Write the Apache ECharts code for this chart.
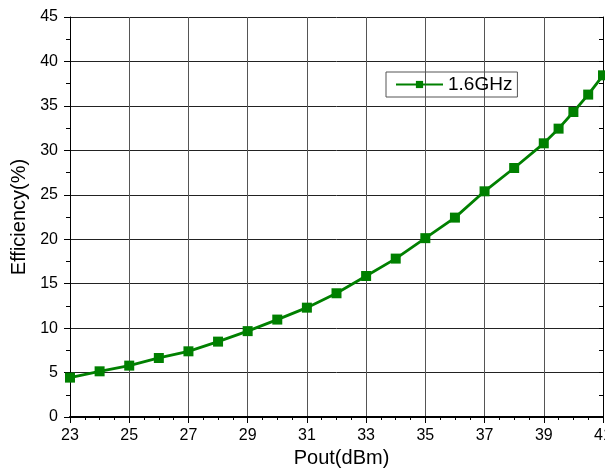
<!DOCTYPE html>
<html>
<head>
<meta charset="utf-8">
<script src="https://cdn.jsdelivr.net/npm/echarts@6/dist/echarts.min.js"></script>
<style>html,body{margin:0;padding:0;background:#fff;}#c{width:605px;height:470px;}</style>
</head>
<body>
<div id="c"></div>
<script>
const seriesName = '1.6GHz';
const pout = [23, 24, 25, 26, 27, 28, 29, 30, 31, 32, 33, 34, 35, 36, 37, 38, 39, 39.5, 40, 40.5, 41];
const efficiency = [4.43, 5.14, 5.78, 6.64, 7.39, 8.48, 9.66, 10.96, 12.3, 13.92, 15.86, 17.82, 20.12, 22.43, 25.39, 28.01, 30.79, 32.44, 34.31, 36.27, 38.44];
const xTicks = [23, 25, 27, 29, 31, 33, 35, 37, 39, 41];
const yTicks = [0, 5, 10, 15, 20, 25, 30, 35, 40, 45];

const chart = echarts.init(document.getElementById('c'), null, {renderer: 'canvas'});
const font = "'Liberation Sans', Arial, sans-serif";
const green = '#008000';
const data = pout.map((x, i) => [x, efficiency[i]]);

chart.setOption({
  animation: false,
  backgroundColor: '#fff',
  grid: {left: 70, right: 2, top: 17, bottom: 53, containLabel: false, outerBoundsMode: 'none'},
  legend: {
    data: [seriesName],
    left: 386, top: 72,
    padding: [3, 5, 3, 9],
    borderColor: '#555', borderWidth: 1,
    itemWidth: 47, itemHeight: 9, itemGap: 5,
    textStyle: {fontFamily: font, fontSize: 19, color: '#000'}
  },
  xAxis: [{
    type: 'value', min: xTicks[0], max: xTicks[xTicks.length - 1], interval: 2,
    position: 'bottom',
    name: 'Pout(dBm)', nameLocation: 'middle', nameGap: 28,
    nameTextStyle: {fontFamily: font, fontSize: 20, color: '#000', padding: [0, 0, 0, 10]},
    axisLine: {show: true, lineStyle: {color: '#000', width: 2}},
    axisTick: {show: true, inside: false, length: 6, lineStyle: {color: '#000', width: 1}},
    minorTick: {show: true, splitNumber: 4, length: 3, lineStyle: {color: '#000', width: 1}},
    axisLabel: {fontFamily: font, fontSize: 16, color: '#000', margin: 11},
    splitLine: {show: true, lineStyle: {color: '#555', width: 1}}
  }, {
    type: 'value', min: xTicks[0], max: xTicks[xTicks.length - 1], interval: 2,
    position: 'top',
    axisLine: {show: true, lineStyle: {color: '#000', width: 1}},
    axisTick: {show: true, inside: true, length: 3, lineStyle: {color: '#000'}},
    minorTick: {show: true, splitNumber: 4, length: 3, lineStyle: {color: '#000'}},
    axisLabel: {show: false},
    splitLine: {show: false}
  }],
  yAxis: [{
    type: 'value', min: yTicks[0], max: yTicks[yTicks.length - 1], interval: 5,
    position: 'left',
    name: 'Efficiency(%)', nameLocation: 'middle', nameGap: 40,
    nameTextStyle: {fontFamily: font, fontSize: 20, color: '#000'},
    axisLine: {show: true, lineStyle: {color: '#000', width: 1}},
    axisTick: {show: true, inside: false, length: 6, lineStyle: {color: '#000'}},
    minorTick: {show: true, splitNumber: 2, length: 4, lineStyle: {color: '#000'}},
    axisLabel: {fontFamily: font, fontSize: 16, color: '#000', margin: 12},
    splitLine: {show: true, lineStyle: {color: '#222', width: 1}}
  }, {
    type: 'value', min: yTicks[0], max: yTicks[yTicks.length - 1], interval: 5,
    position: 'right',
    axisLine: {show: true, lineStyle: {color: '#000', width: 1}},
    axisTick: {show: true, inside: true, length: 4, lineStyle: {color: '#000'}},
    minorTick: {show: true, splitNumber: 2, length: 4, lineStyle: {color: '#000'}},
    axisLabel: {show: false},
    splitLine: {show: false}
  }],
  series: [{
    name: seriesName,
    type: 'line',
    xAxisIndex: 0, yAxisIndex: 0,
    data: data,
    symbol: 'rect', symbolSize: 10,
    lineStyle: {color: green, width: 2.8},
    itemStyle: {color: green},
    clip: false
  }]
});
</script>
</body>
</html>
